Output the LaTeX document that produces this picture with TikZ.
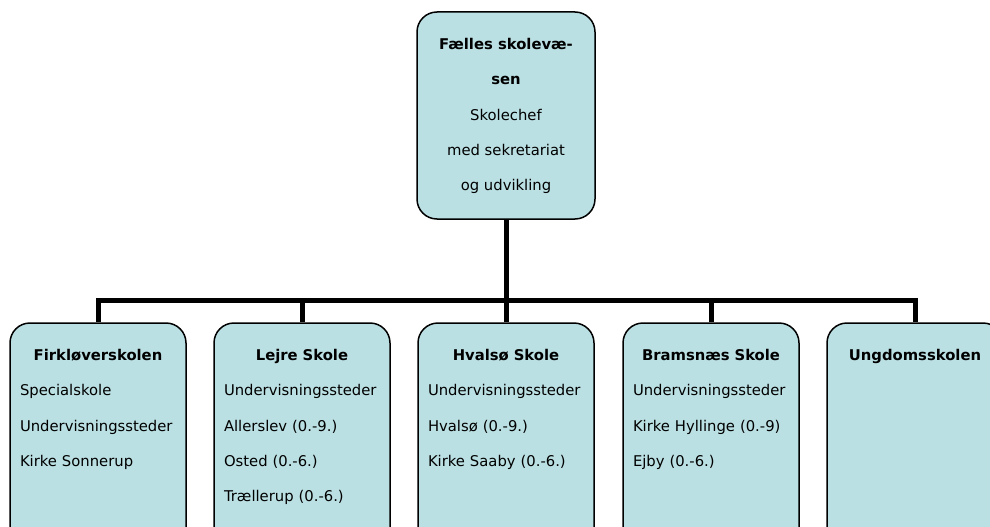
\documentclass[tikz,border=0pt]{standalone}
\usepackage{fontspec}
\setmainfont{DejaVu Sans}
\usepackage{xcolor}
\usetikzlibrary{positioning}
\definecolor{boxblue}{RGB}{187,224,227}
\tikzset{
  unit/.style={draw, line width=1.5pt, rounded corners=20pt, fill=boxblue, minimum width=176pt, minimum height=240pt},
  txt/.style={anchor=north, inner sep=0pt, font=\fontsize{14.8}{35.3}\selectfont},
  link/.style={line width=5pt}
}
\newcommand{\hd}[1]{\makebox[\linewidth]{\bfseries #1}}
\begin{document}
\begin{tikzpicture}[x=1pt, y=-1pt]
\useasboundingbox (0,0) rectangle (990,527);
\clip (0,0) rectangle (990,527);
\coordinate (bus) at (506,300);
\node [unit, minimum width=178pt, minimum height=207pt] (top) at (506,115.5) {};
\node [unit] (b1) at (98,443) {};
\node [unit] (b2) at (302,443) {};
\node [unit] (b3) at (506,443) {};
\node [unit] (b4) at (711,443) {};
\node [unit] (b5) at (915,443) {};
\draw [link] (top.south) -- (b3.north);
\draw [link] (b1.north) -- (b1.north |- bus) -- (b5.north |- bus) -- (b5.north);
\foreach \b in {b2, b4}
  \draw [link] (\b.north) -- (\b.north |- bus);
\node [txt, align=center] (ttop) at ([yshift=-27pt]top.north) {\textbf{Fælles skolevæ-}\\\textbf{sen}\\Skolechef\\med sekretariat\\og udvikling};
\node [txt, text width=156pt, align=left] (t1) at ([yshift=-27pt]b1.north) {\hd{Firkløverskolen}\\Specialskole\\Undervisningssteder\\Kirke Sonnerup};
\node [txt, text width=156pt, align=left] (t2) at ([yshift=-27pt]b2.north) {\hd{Lejre Skole}\\Undervisningssteder\\Allerslev (0.-9.)\\Osted (0.-6.)\\Trællerup (0.-6.)};
\node [txt, text width=156pt, align=left] (t3) at ([yshift=-27pt]b3.north) {\hd{Hvalsø Skole}\\Undervisningssteder\\Hvalsø (0.-9.)\\Kirke Saaby (0.-6.)};
\node [txt, text width=156pt, align=left] (t4) at ([yshift=-27pt]b4.north) {\hd{Bramsnæs Skole}\\Undervisningssteder\\Kirke Hyllinge (0.-9)\\Ejby (0.-6.)};
\node [txt, text width=156pt, align=left] (t5) at ([yshift=-27pt]b5.north) {\hd{Ungdomsskolen}};
\end{tikzpicture}
\end{document}
